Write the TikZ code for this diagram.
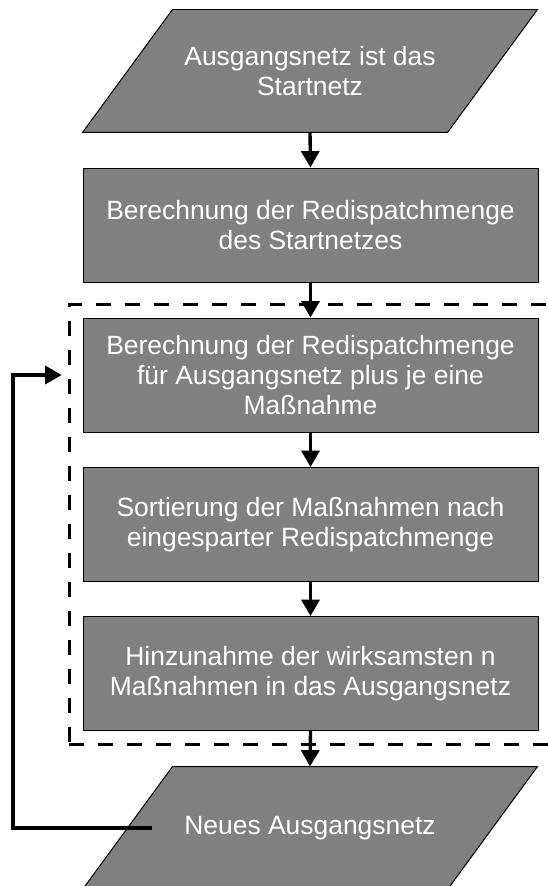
\documentclass[tikz,border=0pt]{standalone}
\usepackage{fontspec}
\setmainfont{Liberation Sans}
\usepackage{tikz}
\usetikzlibrary{arrows.meta, positioning, fit, backgrounds}

\begin{document}
\begin{tikzpicture}[
  box/.style    = {draw, line width=0.7pt, fill=gray, text=white, align=center,
                   minimum width=11.375cm, minimum height=2.85cm, inner sep=0pt,
                   font=\fontsize{18.8}{21.3}\selectfont},
  io/.style     = {box, draw=none, fill=none, minimum width=9.1cm, minimum height=3.05cm},
  iofill/.style = {draw, line width=0.7pt, fill=gray},
  arr/.style    = {-{Triangle[width=0.45cm, length=0.41cm]}, line width=2.4pt},
  rahmen/.style = {draw, dashed, line width=2.4pt, dash pattern=on 0.375cm off 0.35cm,
                   inner sep=0.33cm},
]
\useasboundingbox (0,0) rectangle (13.675,-22.15);

%% Nodes
\node[io]  (start)   at (7.75,  -1.775)  {Ausgangsnetz ist das\\Startnetz};
\node[box] (rdstart) at (7.7625, -5.625) {Berechnung der Redispatchmenge\\des Startnetzes};
\node[box] (rdmass)  at (7.7625, -9.375) {Berechnung der Redispatchmenge\\für Ausgangsnetz plus je eine\\Maßnahme};
\node[box] (sort)    at (7.7625, -13.1125) {Sortierung der Maßnahmen nach\\eingesparter Redispatchmenge};
\node[box] (hinzu)   at (7.7625, -16.8375) {Hinzunahme der wirksamsten n\\Maßnahmen in das Ausgangsnetz};
\node[io]  (neu)     at (7.75,  -20.7)   {Neues Ausgangsnetz};

%% Parallelograms behind the input/output nodes
\begin{scope}[on background layer]
  \foreach \n in {start, neu}
    \draw[iofill] ([xshift=-1.125cm]\n.south west) -- ([xshift=1.125cm]\n.north west)
                  -- ([xshift=1.125cm]\n.north east) -- ([xshift=-1.125cm]\n.south east) -- cycle;
\end{scope}

%% Dashed loop frame
\node[rahmen, fit=(rdmass)(hinzu)] (schleife) {};

%% Main flow
\draw[arr] (start.south) -- (rdstart.north);
\draw[arr] (rdstart.south) -- (rdmass.north);
\draw[arr] (rdmass.south) -- (sort.north);
\draw[arr] (sort.south) -- (hinzu.north);
\draw[arr] (hinzu.south) -- (neu.north);

%% Feedback to the frame
\coordinate (ruck) at (0.325, -20.7);
\draw[arr, line width=2.2pt] ([xshift=0.6cm]neu.west) -- (ruck)
      |- ([xshift=-0.15cm]schleife.west |- rdmass.center);

\end{tikzpicture}
\end{document}
